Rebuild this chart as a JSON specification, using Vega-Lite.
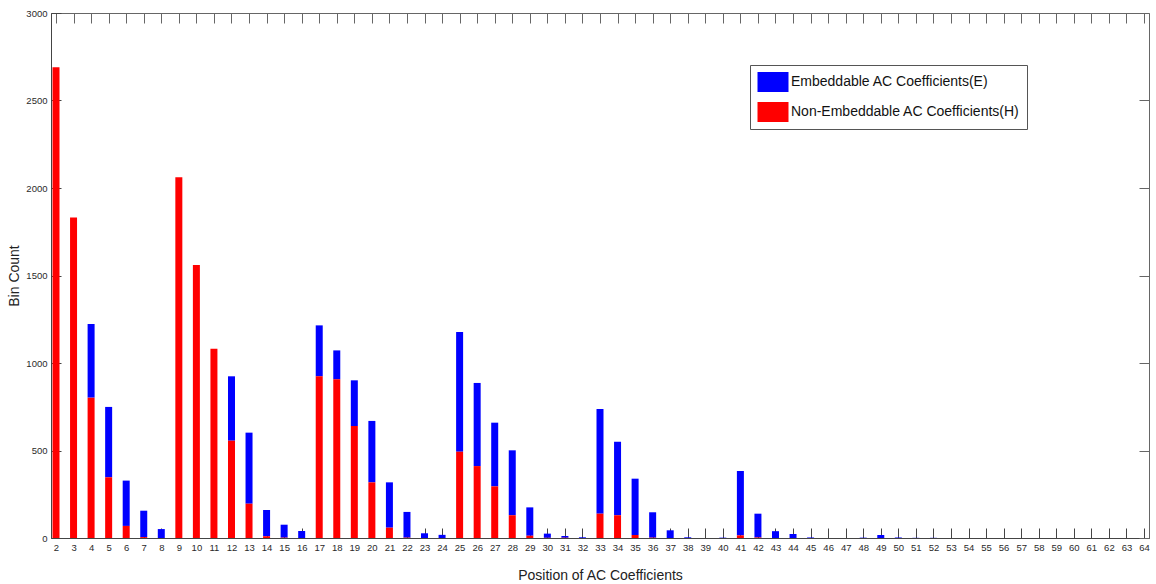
{
  "$schema": "https://vega.github.io/schema/vega-lite/v6.json",
  "width": 1098,
  "height": 525,
  "autosize": {"type": "none"},
  "padding": {"left": 51, "top": 13, "right": 6, "bottom": 46},
  "background": "white",
  "config": {
    "font": "Liberation Sans",
    "view": {"stroke": "#666", "strokeWidth": 1},
    "axis": {
      "grid": false,
      "labelFont": "Liberation Sans",
      "labelFontSize": 9.5,
      "labelColor": "#2a2a2a",
      "titleFont": "Liberation Sans",
      "titleFontSize": 14,
      "titleFontWeight": "normal",
      "titleColor": "#222",
      "domainColor": "#444",
      "tickColor": "#444",
      "tickSize": -10,
      "tickWidth": 1
    },
    "legend": {
      "labelFont": "Liberation Sans",
      "labelFontSize": 14,
      "labelColor": "#111"
    }
  },
  "data": {
    "values": [
      {"pos": 2, "E": 0, "H": 2690},
      {"pos": 3, "E": 0, "H": 1832},
      {"pos": 4, "E": 421, "H": 802},
      {"pos": 5, "E": 402, "H": 347},
      {"pos": 6, "E": 259, "H": 69},
      {"pos": 7, "E": 151, "H": 5},
      {"pos": 8, "E": 51, "H": 0},
      {"pos": 9, "E": 0, "H": 2061},
      {"pos": 10, "E": 0, "H": 1560},
      {"pos": 11, "E": 0, "H": 1082},
      {"pos": 12, "E": 368, "H": 556},
      {"pos": 13, "E": 406, "H": 196},
      {"pos": 14, "E": 150, "H": 10},
      {"pos": 15, "E": 74, "H": 2},
      {"pos": 16, "E": 40, "H": 0},
      {"pos": 17, "E": 291, "H": 924},
      {"pos": 18, "E": 165, "H": 907},
      {"pos": 19, "E": 261, "H": 640},
      {"pos": 20, "E": 351, "H": 318},
      {"pos": 21, "E": 259, "H": 59},
      {"pos": 22, "E": 147, "H": 2},
      {"pos": 23, "E": 27, "H": 0},
      {"pos": 24, "E": 18, "H": 0},
      {"pos": 25, "E": 684, "H": 493},
      {"pos": 26, "E": 475, "H": 411},
      {"pos": 27, "E": 364, "H": 295},
      {"pos": 28, "E": 371, "H": 130},
      {"pos": 29, "E": 162, "H": 13},
      {"pos": 30, "E": 24, "H": 1},
      {"pos": 31, "E": 10, "H": 1},
      {"pos": 32, "E": 4, "H": 0},
      {"pos": 33, "E": 598, "H": 139},
      {"pos": 34, "E": 420, "H": 130},
      {"pos": 35, "E": 322, "H": 17},
      {"pos": 36, "E": 145, "H": 2},
      {"pos": 37, "E": 44, "H": 0},
      {"pos": 38, "E": 4, "H": 0},
      {"pos": 39, "E": 0, "H": 0},
      {"pos": 40, "E": 2, "H": 0},
      {"pos": 41, "E": 368, "H": 15},
      {"pos": 42, "E": 136, "H": 3},
      {"pos": 43, "E": 39, "H": 0},
      {"pos": 44, "E": 23, "H": 0},
      {"pos": 45, "E": 3, "H": 0},
      {"pos": 46, "E": 0, "H": 0},
      {"pos": 47, "E": 0, "H": 0},
      {"pos": 48, "E": 2, "H": 0},
      {"pos": 49, "E": 17, "H": 0},
      {"pos": 50, "E": 3, "H": 0},
      {"pos": 51, "E": 1, "H": 0},
      {"pos": 52, "E": 1, "H": 0},
      {"pos": 53, "E": 0, "H": 0},
      {"pos": 54, "E": 0, "H": 0},
      {"pos": 55, "E": 0, "H": 0},
      {"pos": 56, "E": 0, "H": 0},
      {"pos": 57, "E": 0, "H": 0},
      {"pos": 58, "E": 0, "H": 0},
      {"pos": 59, "E": 0, "H": 0},
      {"pos": 60, "E": 0, "H": 0},
      {"pos": 61, "E": 0, "H": 0},
      {"pos": 62, "E": 0, "H": 0},
      {"pos": 63, "E": 0, "H": 0},
      {"pos": 64, "E": 0, "H": 0}
    ]
  },
  "transform": [{"fold": ["E", "H"], "as": ["type", "count"]}],
  "layer": [
    {
      "mark": {"type": "bar", "size": 7, "clip": true},
      "encoding": {
        "x": {
          "field": "pos",
          "type": "quantitative",
          "scale": {"domain": [2, 64], "nice": false, "zero": false},
          "axis": {
            "orient": "bottom",
            "title": "Position of AC  Coefficients",
            "format": "d",
            "values": [2,3,4,5,6,7,8,9,10,11,12,13,14,15,16,17,18,19,20,21,22,23,24,25,26,27,28,29,30,31,32,33,34,35,36,37,38,39,40,41,42,43,44,45,46,47,48,49,50,51,52,53,54,55,56,57,58,59,60,61,62,63,64],
            "labelPadding": 14,
            "labelFlush": false,
            "labelOverlap": false,
            "titlePadding": 17
          }
        },
        "y": {
          "field": "count",
          "type": "quantitative",
          "stack": "zero",
          "scale": {"domain": [0, 3000], "nice": false},
          "axis": {
            "orient": "left",
            "title": "Bin Count",
            "format": "d",
            "values": [0, 500, 1000, 1500, 2000, 2500, 3000],
            "labelPadding": 14,
            "labelFlush": false,
            "titlePadding": 4
          }
        },
        "color": {
          "field": "type",
          "type": "nominal",
          "scale": {"domain": ["E", "H"], "range": ["#0000ff", "#ff0000"]},
          "legend": {
            "title": null,
            "orient": "none",
            "legendX": 699,
            "legendY": 52,
            "labelExpr": "datum.value == 'E' ? 'Embeddable AC Coefficients(E)' : 'Non-Embeddable AC Coefficients(H)'",
            "symbolType": "M-0.95,-1H2.15V1H-0.95Z",
            "symbolSize": 400,
            "symbolStrokeWidth": 0,
            "labelOffset": 14,
            "rowPadding": 10,
            "padding": 7,
            "strokeColor": "#555",
            "fillColor": "white",
            "labelLimit": 400
          }
        },
        "order": {"field": "type", "type": "ordinal", "sort": "descending"}
      }
    },
    {
      "mark": {"type": "point", "opacity": 0},
      "encoding": {
        "x": {
          "field": "pos",
          "type": "quantitative",
          "axis": {
            "orient": "top",
            "title": null,
            "labels": false,
            "domain": false,
            "tickColor": "#666",
            "values": [2,3,4,5,6,7,8,9,10,11,12,13,14,15,16,17,18,19,20,21,22,23,24,25,26,27,28,29,30,31,32,33,34,35,36,37,38,39,40,41,42,43,44,45,46,47,48,49,50,51,52,53,54,55,56,57,58,59,60,61,62,63,64]
          }
        },
        "y": {
          "field": "count",
          "type": "quantitative",
          "axis": {
            "orient": "right",
            "title": null,
            "labels": false,
            "domain": false,
            "tickColor": "#666",
            "values": [0, 500, 1000, 1500, 2000, 2500, 3000]
          }
        }
      }
    }
  ],
  "resolve": {"axis": {"x": "independent", "y": "independent"}}
}
